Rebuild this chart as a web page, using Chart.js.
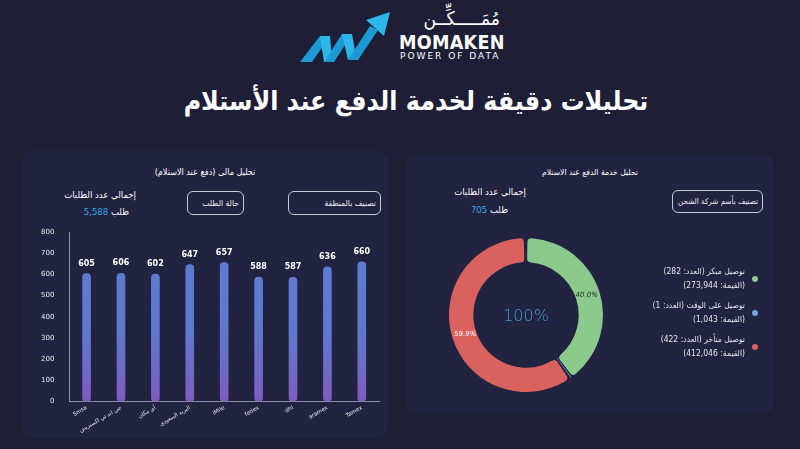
<!DOCTYPE html>
<html lang="ar">
<head>
<meta charset="utf-8">
<script src="https://cdn.jsdelivr.net/npm/chart.js@4.4.1/dist/chart.umd.min.js"></script>
<style>
  body { margin: 0; width: 800px; height: 449px; background: #1e1e36; overflow: hidden;
         font-family: "DejaVu Sans Condensed", "DejaVu Sans", sans-serif; color: #fff; position: relative; }
  .abs { position: absolute; }
  .panel { position: absolute; background: #222241; border-radius: 10px; }
  .btn { position: absolute; border: 1px solid #c8c8d4; border-radius: 6px; font-size: 8.5px; white-space: nowrap;
         direction: rtl; display: flex; align-items: center; padding-right: 4px; box-sizing: border-box; color: #eee; }
  .rt { direction: rtl; text-align: right; }
  .legend-item { position: absolute; width: 200px; direction: rtl; font-size: 8.5px; line-height: 14px; color: #e4e4ec; }
  .dot { position: absolute; width: 6px; height: 6px; border-radius: 50%; }
</style>
</head>
<body>
<!-- logo -->
<svg class="abs" style="left:298px;top:10px" width="100" height="56" viewBox="0 0 100 56">
  <polygon points="2,52 22,26 32,26 14,52" fill="#1c9ad6"/>
  <polygon points="22,26 32,26 34,48 26,52" fill="#2cb6ea"/>
  <polygon points="26,52 44,24 54,24 36,52" fill="#1c9ad6"/>
  <polygon points="44,24 54,24 58,46 50,50" fill="#2cb6ea"/>
  <polygon points="50,50 72,16 80,20 60,50" fill="#1c9ad6"/>
  <polygon points="68,10 92,2 86,26" fill="#2cb6ea"/>
</svg>
<div class="abs" style="left:400px;top:7px;width:100px;text-align:justify;text-align-last:justify;font-size:19px;direction:rtl">مُمَـــــكِّــن</div>
<div class="abs" style="left:399px;top:31px;font-size:19.5px;font-weight:bold;letter-spacing:0.3px">MOMAKEN</div>
<div class="abs" style="left:400px;top:51px;font-size:9px;letter-spacing:2px;font-family:'DejaVu Sans'">POWER OF DATA</div>

<div class="abs" style="left:0;top:85px;width:832px;text-align:center;font-size:26.5px;font-weight:bold;direction:rtl">تحليلات دقيقة لخدمة الدفع عند الأستلام</div>

<!-- left panel -->
<div class="panel" style="left:22px;top:151px;width:366px;height:287px"></div>
<div class="abs" style="left:22px;top:167px;width:366px;text-align:center;font-size:9px;direction:rtl">تحليل مالى (دفع عند الاستلام)</div>
<div class="abs rt" style="left:40px;top:189px;width:96px;font-size:9.5px">إجمالي عدد الطلبات</div>
<div class="abs rt" style="left:40px;top:206px;width:89px;font-size:9.5px">طلب <span style="color:#35a8e0">5,588</span></div>
<div class="btn" style="left:187px;top:191px;width:57px;height:24px">حالة الطلب</div>
<div class="btn" style="left:288px;top:191px;width:93px;height:24px">تصنيف بالمنطقة</div>
<div class="abs" style="left:26px;top:213px;width:358px;height:224px"><canvas id="barChart"></canvas></div>

<!-- right panel -->
<div class="panel" style="left:406px;top:155px;width:368px;height:258px"></div>
<div class="abs" style="left:406px;top:167px;width:368px;text-align:center;font-size:8.5px;direction:rtl">تحليل خدمة الدفع عند الاستلام</div>
<div class="abs rt" style="left:420px;top:186px;width:106px;font-size:9.5px">إجمالي عدد الطلبات</div>
<div class="abs rt" style="left:420px;top:204px;width:88px;font-size:9.5px">طلب <span style="color:#35a8e0">705</span></div>
<div class="btn" style="left:672px;top:190px;width:91px;height:23px;font-size:8px">تصنيف بأسم شركة الشحن</div>
<div class="abs" style="left:448px;top:237px;width:156px;height:156px"><canvas id="donutChart"></canvas></div>
<div class="abs" style="left:448px;top:237px;width:156px;height:156px;display:flex;align-items:center;justify-content:center;font-size:16px;color:#3aa0d0;font-family:'DejaVu Sans';font-weight:300">100%</div>
<div class="abs" id="legend" style="left:540px;top:264px;width:225px;height:110px"></div>

<script>
// bar chart data
const carriers = ['Smsa', 'جي اند تي اكسبريس', 'آي مكان', 'البريد السعودي', 'iMile', 'fedex', 'dhl', 'aramex', 'Tamex'];
const carrierOrders = [605, 606, 602, 647, 657, 588, 587, 636, 660];
const yTicks = [0, 100, 200, 300, 400, 500, 600, 700, 800];

// doughnut data
const deliveryStatus = ['توصيل مبكر', 'توصيل على الوقت', 'توصيل متأخر'];
const statusCounts = [282, 1, 422];
const statusValues = ['273,944', '1,043', '412,046'];
const statusColors = ['#8cc98c', '#6fa3dd', '#d9625f'];

const barLabels = {
  id: 'barLabels',
  afterDatasetsDraw(chart) {
    const ctx = chart.ctx;
    const meta = chart.getDatasetMeta(0);
    ctx.save();
    ctx.fillStyle = '#ffffff';
    ctx.font = 'bold 8px "DejaVu Sans"';
    ctx.textAlign = 'center';
    ctx.textBaseline = 'bottom';
    meta.data.forEach((bar, i) => {
      ctx.fillText(carrierOrders[i], bar.x, bar.y - 6);
    });
    ctx.restore();
  }
};

new Chart(document.getElementById('barChart'), {
  type: 'bar',
  data: {
    labels: carriers,
    datasets: [{
      data: carrierOrders,
      barThickness: 8,
      borderRadius: 4,
      borderSkipped: false,
      backgroundColor: function(context) {
        const area = context.chart.chartArea;
        if (!area) return '#5b7bd0';
        const g = context.chart.ctx.createLinearGradient(0, area.top, 0, area.bottom);
        g.addColorStop(0, '#5b7dd2');
        g.addColorStop(0.6, '#5f78cc');
        g.addColorStop(1, '#7e5cc0');
        return g;
      }
    }]
  },
  options: {
    responsive: true,
    maintainAspectRatio: false,
    animation: false,
    layout: { padding: { top: 0, right: 5 } },
    plugins: { legend: { display: false }, tooltip: { enabled: false } },
    scales: {
      x: {
        grid: { display: false, drawTicks: false },
        border: { color: '#8d8da6' },
        ticks: { color: '#e8e8f0', font: { size: 5.5, family: 'DejaVu Sans' }, minRotation: 30, maxRotation: 30, padding: 3 }
      },
      y: {
        min: 0, max: 800,
        afterBuildTicks: axis => { axis.ticks = yTicks.map(v => ({ value: v })); },
        grid: { display: false, drawTicks: false },
        border: { color: '#8d8da6' },
        ticks: { color: '#e8e8f0', font: { size: 7, family: 'DejaVu Sans' }, padding: 15 }
      }
    }
  },
  plugins: [barLabels]
});

const donutLabels = {
  id: 'donutLabels',
  afterDatasetsDraw(chart) {
    const ctx = chart.ctx;
    const meta = chart.getDatasetMeta(0);
    const total = statusCounts.reduce((a, b) => a + b, 0);
    ctx.save();
    ctx.font = 'italic 7px "DejaVu Sans"';
    ctx.textAlign = 'center';
    ctx.textBaseline = 'middle';
    meta.data.forEach((arc, i) => {
      const pct = statusCounts[i] / total * 100;
      if (pct < 5) return;
      const mid = (arc.startAngle + arc.endAngle) / 2;
      const r = (arc.innerRadius + arc.outerRadius) / 2;
      ctx.fillStyle = i === 0 ? '#1e2a1e' : '#ffffff';
      ctx.fillText(pct.toFixed(1) + '%', arc.x + Math.cos(mid) * r, arc.y + Math.sin(mid) * r);
    });
    ctx.restore();
  }
};

new Chart(document.getElementById('donutChart'), {
  type: 'doughnut',
  data: {
    labels: deliveryStatus,
    datasets: [{
      data: statusCounts,
      backgroundColor: statusColors,
      borderWidth: 0,
      spacing: 2,
      borderRadius: 4
    }]
  },
  options: {
    responsive: true,
    maintainAspectRatio: false,
    animation: false,
    cutout: '68%',
    layout: { padding: 1 },
    plugins: { legend: { display: false }, tooltip: { enabled: false } }
  },
  plugins: [donutLabels]
});

// html legend
const legend = document.getElementById('legend');
deliveryStatus.forEach((name, i) => {
  const item = document.createElement('div');
  item.className = 'legend-item';
  item.style.top = (i * 34) + 'px';
  item.style.right = '20px';
  item.innerHTML = name + ' (العدد: ' + statusCounts[i] + ')<br>(القيمة: ' + statusValues[i] + ')';
  legend.appendChild(item);
  const dot = document.createElement('div');
  dot.className = 'dot';
  dot.style.background = statusColors[i];
  dot.style.right = '7px';
  dot.style.top = (i * 34 + 12) + 'px';
  legend.appendChild(dot);
});
</script>
</body>
</html>
